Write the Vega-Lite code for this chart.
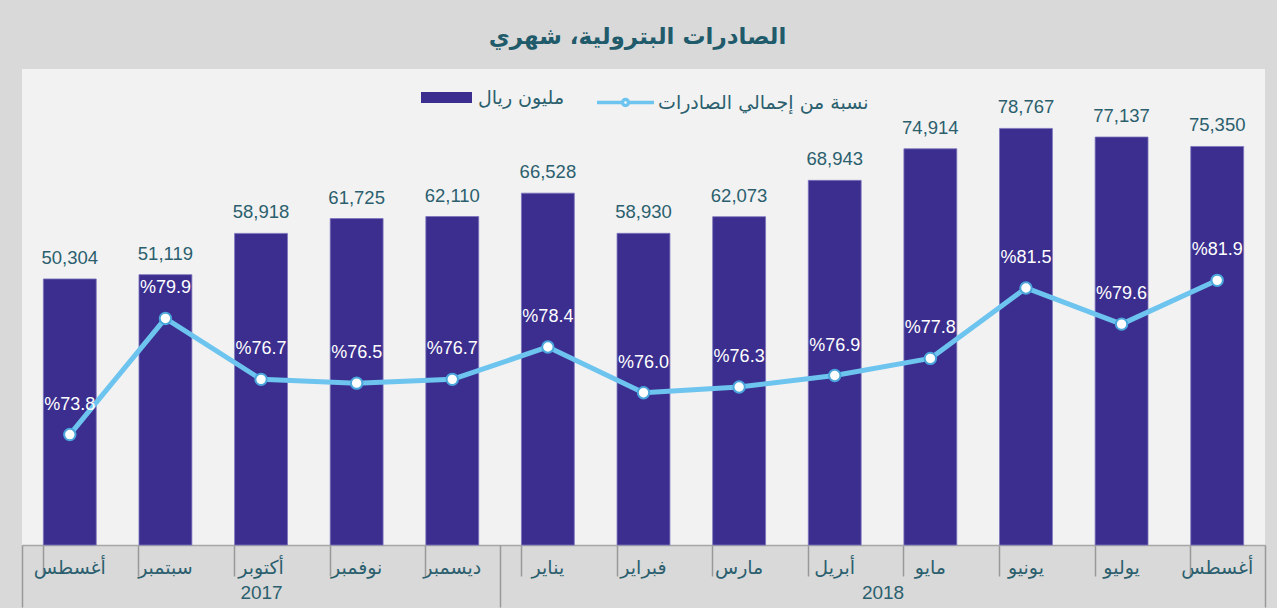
{
  "$schema": "https://vega.github.io/schema/vega-lite/v6.json",
  "autosize": {"type": "none"},
  "width": 1243,
  "height": 476,
  "padding": {"left": 22, "top": 69, "right": 12, "bottom": 63},
  "background": "#d9d9d9",
  "config": {
    "view": {"fill": "#f2f2f2", "stroke": null},
    "font": "Liberation Sans",
    "axis": {"grid": false}
  },
  "title": {
    "text": "الصادرات البترولية، شهري",
    "fontSize": 23,
    "fontWeight": "bold",
    "color": "#1f5b6b",
    "font": "DejaVu Sans",
    "anchor": "middle",
    "baseline": "middle",
    "dx": -6,
    "offset": 9
  },
  "datasets": {
    "exports": [
      {"period": "أغسطس 2017", "month": "أغسطس", "year": 2017, "value": 50304, "pct": 73.8},
      {"period": "سبتمبر 2017", "month": "سبتمبر", "year": 2017, "value": 51119, "pct": 79.9},
      {"period": "أكتوبر 2017", "month": "أكتوبر", "year": 2017, "value": 58918, "pct": 76.7},
      {"period": "نوفمبر 2017", "month": "نوفمبر", "year": 2017, "value": 61725, "pct": 76.5},
      {"period": "ديسمبر 2017", "month": "ديسمبر", "year": 2017, "value": 62110, "pct": 76.7},
      {"period": "يناير 2018", "month": "يناير", "year": 2018, "value": 66528, "pct": 78.4},
      {"period": "فبراير 2018", "month": "فبراير", "year": 2018, "value": 58930, "pct": 76.0},
      {"period": "مارس 2018", "month": "مارس", "year": 2018, "value": 62073, "pct": 76.3},
      {"period": "أبريل 2018", "month": "أبريل", "year": 2018, "value": 68943, "pct": 76.9},
      {"period": "مايو 2018", "month": "مايو", "year": 2018, "value": 74914, "pct": 77.8},
      {"period": "يونيو 2018", "month": "يونيو", "year": 2018, "value": 78767, "pct": 81.5},
      {"period": "يوليو 2018", "month": "يوليو", "year": 2018, "value": 77137, "pct": 79.6},
      {"period": "أغسطس 2018", "month": "أغسطس", "year": 2018, "value": 75350, "pct": 81.9}
    ]
  },
  "layer": [
    {
      "data": {"name": "exports"},
      "encoding": {
        "x": {
          "field": "period",
          "type": "nominal",
          "sort": null,
          "title": null,
          "scale": {"paddingInner": 0.447, "paddingOuter": 0.2235},
          "axis": {
            "orient": "bottom",
            "bandPosition": 0,
            "labelExpr": "split(datum.label, ' ')[0]",
            "labelAngle": 0,
            "labelAlign": "center",
            "labelFlush": false,
            "labelOverlap": false,
            "labelFont": "DejaVu Sans",
            "labelFontSize": 19,
            "labelColor": "#2b5f6e",
            "labelBaseline": "middle",
            "labelPadding": -9,
            "tickSize": 31,
            "tickColor": "#999999",
            "tickWidth": 1.5,
            "domainColor": "#a6a6a6",
            "domainWidth": 1.5
          }
        }
      },
      "layer": [
        {
          "mark": {"type": "bar", "stroke": "#7b73bd", "strokeWidth": 0.8},
          "encoding": {
            "y": {"field": "value", "type": "quantitative", "scale": {"domain": [0, 90000], "nice": false}, "axis": null},
            "fill": {
              "datum": "مليون ريال",
              "type": "nominal",
              "scale": {"range": ["#3b2e8e"]},
              "legend": {
                "title": null,
                "orient": "none",
                "legendX": 399,
                "legendY": 3,
                "symbolType": "M-1,-0.216H1V0.216H-1Z",
                "symbolSize": 2601,
                "symbolStrokeWidth": 0,
                "labelFont": "DejaVu Sans",
                "labelFontSize": 19,
                "labelColor": "#2b5f6e",
                "labelLimit": 400,
                "labelOffset": 6
              }
            }
          }
        },
        {
          "mark": {"type": "text", "baseline": "alphabetic", "dy": -15, "fontSize": 18.5, "color": "#2b5f6e"},
          "encoding": {
            "y": {"field": "value", "type": "quantitative", "scale": {"domain": [0, 90000], "nice": false}, "axis": null},
            "text": {"field": "value", "type": "quantitative", "format": ","}
          }
        },
        {
          "mark": {"type": "line", "strokeWidth": 5, "strokeCap": "round", "strokeJoin": "round"},
          "encoding": {
            "y": {"field": "pct", "type": "quantitative", "scale": {"domain": [68, 93], "nice": false, "zero": false}, "axis": null},
            "stroke": {
              "datum": "نسبة من إجمالي الصادرات",
              "type": "nominal",
              "scale": {"range": ["#6dc4ee"]},
              "legend": {
                "title": null,
                "orient": "none",
                "legendX": 573,
                "legendY": 3,
                "symbolType": "M-1,0H-0.105M0.105,0H1M-0.105,0A0.105,0.105,0,1,0,0.105,0A0.105,0.105,0,1,0,-0.105,0Z",
                "symbolSize": 3249,
                "symbolFillColor": "#ffffff",
                "symbolStrokeColor": "#6dc4ee",
                "symbolStrokeWidth": 3.5,
                "labelFont": "DejaVu Sans",
                "labelFontSize": 19,
                "labelColor": "#2b5f6e",
                "labelLimit": 400,
                "labelOffset": 2
              }
            }
          }
        },
        {
          "mark": {"type": "point", "shape": "circle", "filled": true, "fill": "#ffffff", "stroke": "#4ba6dc", "strokeWidth": 2, "size": 130, "opacity": 1},
          "encoding": {
            "y": {"field": "pct", "type": "quantitative", "scale": {"domain": [68, 93], "nice": false, "zero": false}, "axis": null}
          }
        },
        {
          "transform": [{"calculate": "'%' + format(datum.pct, '.1f')", "as": "pctLabel"}],
          "mark": {"type": "text", "baseline": "middle", "dy": -30, "fontSize": 18, "color": "#ffffff"},
          "encoding": {
            "y": {"field": "pct", "type": "quantitative", "scale": {"domain": [68, 93], "nice": false, "zero": false}, "axis": null},
            "text": {"field": "pctLabel", "type": "nominal"}
          }
        }
      ],
      "resolve": {"scale": {"y": "independent"}}
    },
    {
      "data": {"values": [{}]},
      "mark": {"type": "rule", "strokeOpacity": 0},
      "encoding": {
        "x": {
          "datum": 0,
          "type": "quantitative",
          "title": null,
          "scale": {"domain": [0, 13], "nice": false, "zero": false},
          "axis": {
            "orient": "bottom",
            "values": [0, 5, 13],
            "labels": false,
            "domain": false,
            "tickSize": 62,
            "tickColor": "#999999",
            "tickWidth": 1.5
          }
        }
      }
    },
    {
      "data": {"values": [{}]},
      "mark": {"type": "rule", "strokeOpacity": 0},
      "encoding": {
        "x": {
          "datum": 0,
          "type": "quantitative",
          "title": null,
          "scale": {"domain": [0, 13], "nice": false, "zero": false},
          "axis": {
            "orient": "bottom",
            "values": [2.5, 9],
            "labelExpr": "datum.value < 5 ? '2017' : '2018'",
            "ticks": false,
            "tickSize": 0,
            "domain": false,
            "labelFlush": false,
            "labelFont": "Liberation Sans",
            "labelFontSize": 19,
            "labelColor": "#2b5f6e",
            "labelBaseline": "middle",
            "labelPadding": 47
          }
        }
      }
    }
  ],
  "resolve": {"scale": {"x": "independent"}}
}
